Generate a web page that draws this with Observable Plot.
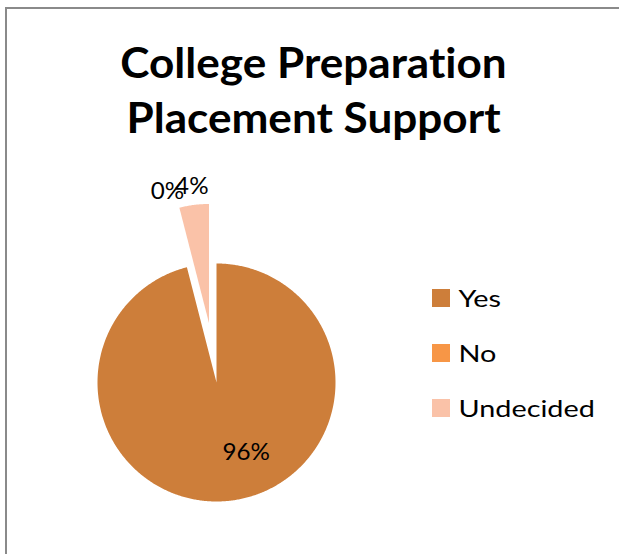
<!DOCTYPE html>
<html>
<head>
<meta charset="utf-8">
<script src="https://cdn.jsdelivr.net/npm/d3@7"></script>
<script src="https://cdn.jsdelivr.net/npm/@observablehq/plot@0.6"></script>
<style>
  html, body { margin: 0; padding: 0; background: #fff; }
  #wrap { position: relative; width: 619px; height: 554px; overflow: hidden; background: #fff; }
  #frame { position: absolute; left: 5px; top: 7px; width: 720px; height: 720px; border: 2px solid #8a8a8a; box-sizing: border-box; }
  #chart { position: absolute; left: 0; top: 0; }
  #chart text { font-variant-ligatures: none; font-feature-settings: "liga" 0, "clig" 0; }
</style>
</head>
<body>
<div id="wrap">
  <div id="frame"></div>
  <div id="chart"></div>
</div>
<script>
// ---- data ----
const titleLines = ["College Preparation", "Placement Support"];
const categories = ["Yes", "No", "Undecided"];
const values = [96, 0, 4];
const labels = ["96%", "0%", "4%"];
const colors = ["#CD7E3A", "#F79646", "#FAC2A8"];

// ---- layout (pixels) ----
const W = 619, H = 554;
const cx = 216, cy = 382, R = 119;
const explode = [0, 60, 60];          // px offset of each slice along its bisector
const insideLabelAngle = 157;         // degrees, for the big slice label
const insideLabelRadius = 0.64;
const outsideLabelGap = 18;

const pie = d3.pie().sort(null).value(d => d)(values);

const slicePts = [];
const labelPts = [];
pie.forEach((p, i) => {
  const a0 = p.startAngle, a1 = p.endAngle;
  const mid = (a0 + a1) / 2;
  const ox = cx + explode[i] * Math.sin(mid);
  const oy = cy - explode[i] * Math.cos(mid);
  if (a1 > a0) {
    slicePts.push({category: categories[i], x: ox, y: oy});
    const n = Math.max(2, Math.ceil((a1 - a0) / (Math.PI / 360)));
    for (let k = 0; k <= n; k++) {
      const a = a0 + (a1 - a0) * k / n;
      slicePts.push({category: categories[i], x: ox + R * Math.sin(a), y: oy - R * Math.cos(a)});
    }
  }
  if (explode[i] > 0) {
    const d = explode[i] + R + outsideLabelGap;
    labelPts.push({text: labels[i], x: cx + d * Math.sin(mid), y: cy - d * Math.cos(mid)});
  } else {
    const a = insideLabelAngle * Math.PI / 180;
    labelPts.push({text: labels[i], x: cx + R * insideLabelRadius * Math.sin(a), y: cy - R * insideLabelRadius * Math.cos(a)});
  }
});

// legend
const legX = 432, legY0 = 289, legStep = 55, sw = 18;
const legend = categories.map((c, i) => ({category: c, x1: legX, x2: legX + sw, y1: legY0 + i * legStep, y2: legY0 + i * legStep + sw}));

const titleFont = 42;
const titleData = titleLines.map((t, i) => ({text: t, x: 313, y: [77, 132][i] - 0.32 * titleFont}));

const chart = Plot.plot({
  width: W, height: H,
  margin: 0,
  x: {domain: [0, W], range: [0, W], axis: null},
  y: {domain: [0, H], range: [0, H], axis: null},
  color: {domain: categories, range: colors},
  style: {fontFamily: "Lato, 'Open Sans', sans-serif", background: "transparent", overflow: "visible"},
  marks: [
    Plot.line(slicePts, {x: "x", y: "y", z: "category", fill: "category", stroke: null, curve: "linear-closed"}),
    Plot.text(labelPts, {x: "x", y: "y", text: "text", fontSize: 23, fill: "#000", lineAnchor: "middle"}),
    Plot.rect(legend, {x1: "x1", x2: "x2", y1: "y1", y2: "y2", fill: "category"}),
    Plot.text(legend, {x: d => d.x2 + 8, y: d => (d.y1 + d.y2) / 2 + 1, text: "category", textAnchor: "start", fontSize: 24, fill: "#000", lineAnchor: "middle"}),
    Plot.text(titleData, {x: "x", y: "y", text: "text", fontSize: titleFont, fontWeight: "bold", fill: "#000", lineAnchor: "middle"})
  ]
});
document.getElementById("chart").appendChild(chart);

// widen glyphs slightly to match the reference's horizontally stretched Calibri-like text
const stretch = [1.05, 1.2, 1.05]; // labels, legend, title
d3.select(chart).selectAll('g[aria-label="text"]').each(function(_, gi) {
  d3.select(this).selectAll("text").each(function() {
    const w = this.getComputedTextLength();
    this.setAttribute("textLength", (w * stretch[gi]).toFixed(1));
    this.setAttribute("lengthAdjust", "spacingAndGlyphs");
  });
});
</script>
</body>
</html>
